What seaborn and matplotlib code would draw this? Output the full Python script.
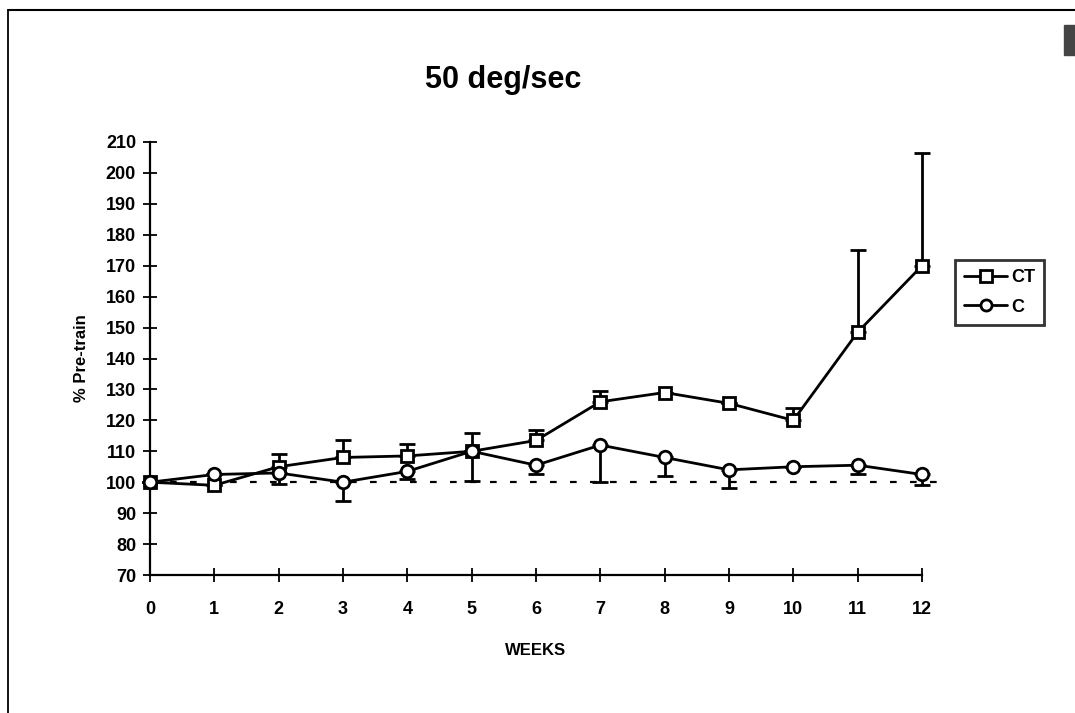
import numpy as np
import pandas as pd
import matplotlib
matplotlib.use('Agg')
import matplotlib.pyplot as plt
import seaborn as sns
from matplotlib.lines import Line2D
from matplotlib.patches import Rectangle

weeks = list(range(13))
ct_mean = [100, 99, 105, 108, 108.5, 110, 113.5, 126, 129, 125.5, 120, 148.5, 170]
ct_upper = [100, 99, 109, 113.5, 112.5, 116, 117, 129.5, 129, 125.5, 124, 175, 206.5]
c_mean = [100, 102.5, 103, 100, 103.5, 110, 105.5, 112, 108, 104, 105, 105.5, 102.5]
c_lower = [100, 102.5, 99.5, 94, 101, 100.5, 102.5, 100, 102, 98, 105, 102.5, 99]
y_ticks = list(range(70, 211, 10))

df = pd.DataFrame({'week': weeks * 2,
                   'value': ct_mean + c_mean,
                   'group': ['CT'] * 13 + ['C'] * 13})

sns.set_style('white')
plt.rcParams['font.family'] = ['Liberation Sans', 'DejaVu Sans']
plt.rcParams['text.color'] = 'black'
plt.rcParams['axes.labelcolor'] = 'black'
plt.rcParams['xtick.color'] = 'black'
plt.rcParams['ytick.color'] = 'black'

fig = plt.figure(figsize=(10.75, 7.13), dpi=100)
ax = fig.add_axes([150 / 1075, 1 - 575 / 713, (922 - 150) / 1075, (575 - 142) / 713])

# one-sided error bars
ct_err = np.array(ct_upper) - np.array(ct_mean)
c_err = np.array(c_mean) - np.array(c_lower)
ax.errorbar(weeks, ct_mean, yerr=[np.zeros(13), ct_err], fmt='none', ecolor='black',
            elinewidth=2, capsize=6, capthick=2, zorder=2, clip_on=False)
ax.errorbar(weeks, c_mean, yerr=[c_err, np.zeros(13)], fmt='none', ecolor='black',
            elinewidth=2, capsize=6, capthick=2, zorder=2, clip_on=False)

# baseline
ax.plot([0, 12.35], [100, 100], color='black', lw=1.6, linestyle=(0, (3, 6)),
        clip_on=False, zorder=1)

sns.lineplot(data=df, x='week', y='value', hue='group', style='group',
             markers={'CT': 's', 'C': 'o'}, dashes=False,
             palette={'CT': 'black', 'C': 'black'}, markersize=9,
             markerfacecolor='white', markeredgecolor='black', markeredgewidth=2,
             linewidth=2, legend=False, ax=ax, clip_on=False, zorder=3)

ax.set_xlim(0, 12)
ax.set_ylim(70, 210)
ax.set_xticks(weeks)
ax.set_yticks(y_ticks)
ax.tick_params(axis='both', direction='inout', length=10, width=1.3, color='black',
               labelsize=13, bottom=True, left=True)
ax.tick_params(axis='x', pad=14)
ax.tick_params(axis='y', pad=5)
for lab in ax.get_xticklabels() + ax.get_yticklabels():
    lab.set_fontweight('bold')
for s in ['top', 'right']:
    ax.spines[s].set_visible(False)
for s in ['left', 'bottom']:
    ax.spines[s].set_color('black')
    ax.spines[s].set_linewidth(1.6)

ax.set_xlabel('WEEKS', fontsize=12, fontweight='bold', labelpad=18)
ax.set_ylabel('% Pre-train', fontsize=12, fontweight='bold', labelpad=12)

fig.text(503 / 1075, 1 - 80 / 713, '50 deg/sec', fontsize=22, fontweight='bold',
         ha='center', va='center')

handles = [Line2D([], [], color='black', lw=2, marker='s', markersize=8,
                  markerfacecolor='white', markeredgewidth=2),
           Line2D([], [], color='black', lw=2, marker='o', markersize=8,
                  markerfacecolor='white', markeredgewidth=2)]
leg = fig.legend(handles, ['CT', 'C'], loc='upper left',
                 bbox_to_anchor=(955 / 1075, 1 - 260 / 713),
                 prop={'size': 13, 'weight': 'bold'},
                 frameon=True, fancybox=False, edgecolor='black',
                 handlelength=2.4, handletextpad=0.2, borderpad=0.5,
                 labelspacing=0.7, borderaxespad=0)
leg.get_frame().set_linewidth(2)
leg.get_frame().set_edgecolor('black')

# scanned page frame
fig.add_artist(Line2D([8 / 1075, 1], [1 - 10 / 713, 1 - 10 / 713], color='black', lw=1.5))
fig.add_artist(Line2D([8 / 1075, 8 / 1075], [0, 1 - 10 / 713], color='black', lw=1.3))
fig.add_artist(Rectangle((1064 / 1075, 1 - 55 / 713), 11 / 1075, 30 / 713,
                         color='#444444', transform=fig.transFigure))

fig.savefig('out.png', dpi=100)
